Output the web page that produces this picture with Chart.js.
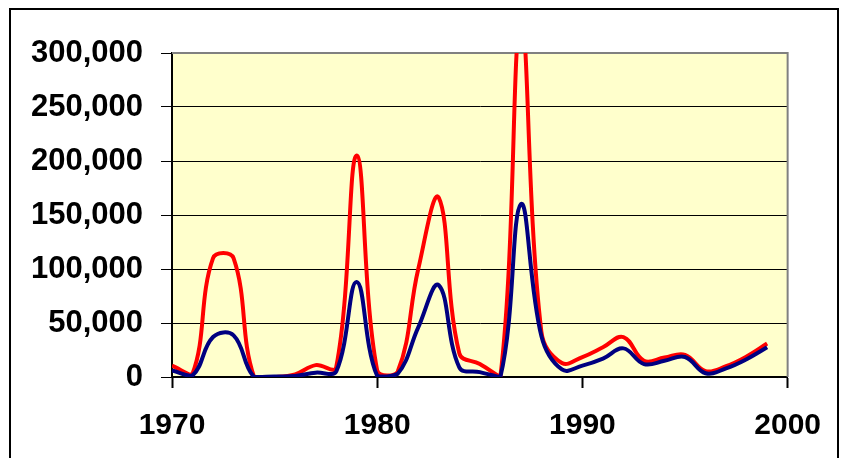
<!DOCTYPE html>
<html>
<head>
<meta charset="utf-8">
<script src="https://cdn.jsdelivr.net/npm/chart.js@4"></script>
<style>
  html, body { margin: 0; padding: 0; background: #fff; }
  #wrap { position: relative; width: 841px; height: 458px; overflow: hidden; }
  #frame { position: absolute; left: 9px; top: 8px; width: 830px; height: 480px; border: 2px solid #000; box-sizing: border-box; }
  canvas { position: absolute; left: 0; top: 0; }
</style>
</head>
<body>
<div id="wrap">
  <canvas id="chart" width="841" height="458"></canvas>
  <div id="frame"></div>
</div>
<script>
// Data (one point per year)
const years = [1970, 1971, 1972, 1973, 1974, 1975, 1976, 1977, 1978, 1979,
               1980, 1981, 1982, 1983, 1984, 1985, 1986, 1987, 1988, 1989,
               1990, 1991, 1992, 1993, 1994, 1995, 1996, 1997, 1998, 1999];
const redValues = [10500, 3000, 110000, 110000, 0, 0, 2500, 11000, 9000, 205000,
                   6000, 5000, 100000, 166000, 22000, 12000, 0, 330000, 42000, 13000,
                   18500, 27500, 37000, 15000, 18000, 20500, 5500, 10000, 19000, 31000];
const blueValues = [6000, 1500, 37000, 38500, 0, 500, 1000, 4000, 5000, 88000,
                    1000, 3000, 46000, 85000, 9000, 4500, 0, 160000, 38000, 7000,
                    10500, 17000, 26500, 12000, 15000, 18500, 3500, 8000, 16500, 27500];
const xTicks = [1970, 1980, 1990, 2000];
const yMax = 300000;
const yStep = 50000;

function toPoints(values) {
    return years.map(function (y, i) { return { x: y, y: values[i] }; });
}

// yellow plot area and grey top/right border
const plotBackground = {
    id: "plotBackground",
    beforeDraw(chart) {
        const ctx = chart.ctx, a = chart.chartArea;
        ctx.save();
        ctx.fillStyle = "#FFFFCC";
        ctx.fillRect(a.left, a.top, a.right - a.left, a.bottom - a.top);
        ctx.restore();
    },
    beforeDatasetsDraw(chart) {
        const ctx = chart.ctx, a = chart.chartArea;
        ctx.save();
        ctx.strokeStyle = "#808080";
        ctx.lineWidth = 2;
        ctx.beginPath();
        ctx.moveTo(a.left, a.top);
        ctx.lineTo(a.right, a.top);
        ctx.lineTo(a.right, a.bottom);
        ctx.stroke();
        ctx.restore();
    }
};

const font = "'Liberation Sans', Arial, sans-serif";

new Chart(document.getElementById("chart").getContext("2d"), {
    type: "line",
    data: {
        datasets: [
            {
                data: toPoints(blueValues),
                borderColor: "#000080",
                borderWidth: 4,
                pointRadius: 0,
                tension: 0.4,
                fill: false
            },
            {
                data: toPoints(redValues),
                borderColor: "#FF0000",
                borderWidth: 4,
                pointRadius: 0,
                tension: 0.4,
                fill: false
            }
        ]
    },
    options: {
        responsive: false,
        animation: false,
        devicePixelRatio: 1,
        layout: { padding: { top: 53, right: 53, bottom: 0, left: 0 } },
        plugins: { legend: { display: false }, tooltip: { enabled: false } },
        scales: {
            x: {
                type: "linear",
                min: 1970,
                max: 2000,
                afterBuildTicks: function (scale) {
                    scale.ticks = xTicks.map(function (v) { return { value: v }; });
                },
                afterFit: function (scale) { scale.height = 81; },
                grid: { drawOnChartArea: false, drawTicks: true, tickLength: 11, tickColor: "#000", tickWidth: 2 },
                border: { display: true, color: "#000", width: 2 },
                ticks: {
                    padding: 20,
                    color: "#000",
                    maxRotation: 0,
                    font: { family: font, size: 30, weight: "bold" },
                    callback: function (v) { return String(v); }
                }
            },
            y: {
                min: 0,
                max: yMax,
                afterFit: function (scale) { scale.width = 172; },
                grid: {
                    color: function (c) { return c.tick && c.tick.value === yMax ? "#808080" : "#000"; },
                    lineWidth: 1,
                    drawTicks: true,
                    tickLength: 11,
                    tickColor: "#000"
                },
                border: { display: true, color: "#000", width: 2 },
                ticks: {
                    stepSize: yStep,
                    padding: 18,
                    color: "#000",
                    font: { family: font, size: 31, weight: "bold" },
                    callback: function (v) { return v.toLocaleString("en-US"); }
                }
            }
        }
    },
    plugins: [plotBackground]
});
</script>
</body>
</html>
